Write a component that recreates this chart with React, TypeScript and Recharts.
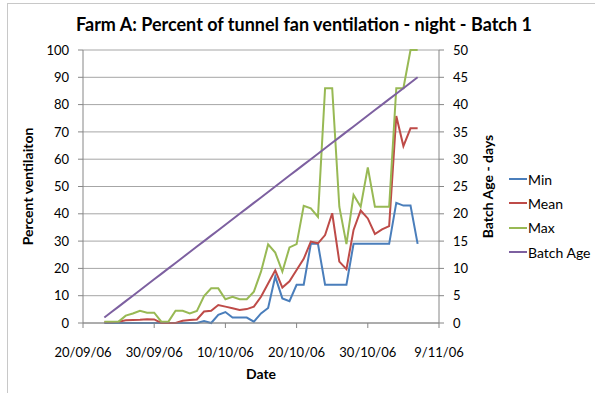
import React from 'react';
import { LineChart, Line, XAxis, YAxis, CartesianGrid, Legend, Label } from 'recharts';

const FONT = 'Lato, "Open Sans", sans-serif';

const dates = [
  '23/09/06', '24/09/06', '25/09/06', '26/09/06', '27/09/06', '28/09/06', '29/09/06', '30/09/06',
  '01/10/06', '02/10/06', '03/10/06', '04/10/06', '05/10/06', '06/10/06', '07/10/06', '08/10/06',
  '09/10/06', '10/10/06', '11/10/06', '12/10/06', '13/10/06', '14/10/06', '15/10/06', '16/10/06',
  '17/10/06', '18/10/06', '19/10/06', '20/10/06', '21/10/06', '22/10/06', '23/10/06', '24/10/06',
  '25/10/06', '26/10/06', '27/10/06', '28/10/06', '29/10/06', '30/10/06', '31/10/06', '01/11/06',
  '02/11/06', '03/11/06', '04/11/06', '05/11/06', '06/11/06',
];

const minVent = [
  0, 0, 0, 0, 0, 0, 0, 0, 0, 0, 0, 0, 0, 0, 0.7, 0, 3, 4, 2, 2, 2, 0.5, 3.5, 5.5, 17,
  9, 8, 14, 14, 29, 29, 14, 14, 14, 14, 29, 29, 29, 29, 29, 29, 44, 43, 43, 29,
];

const meanVent = [
  0.3, 0.3, 0.5, 1, 1.1, 1.2, 1.4, 1.3, 0, 0, 0, 0.8, 1.1, 1.3, 4.2, 4.5, 6.6, 6, 5.4, 4.8,
  5.1, 6, 9.6, 14.5, 19.3, 13, 15.3, 19.4, 23.5, 29.8, 29.2, 32.2, 40.2, 22.5, 19.7, 34.1,
  41.2, 38.3, 32.6, 34.3, 35.5, 75.8, 64.8, 71.3, 71.3,
];

const maxVent = [
  0.5, 0.5, 0.5, 2.7, 3.5, 4.5, 3.8, 3.8, 0.5, 0.5, 4.5, 4.5, 3.5, 4.4, 9.9, 12.7, 12.7, 8.7,
  9.6, 8.7, 8.7, 11.5, 18.8, 28.8, 25.8, 18.8, 27.7, 28.9, 42.9, 42, 38.9, 86, 86, 42.6, 28.9,
  46.9, 42.6, 57, 42.6, 42.6, 42.6, 86, 86, 100, 100,
];

const batchAge = [
  1, 2, 3, 4, 5, 6, 7, 8, 9, 10, 11, 12, 13, 14, 15, 16, 17, 18, 19, 20, 21, 22, 23, 24, 25,
  26, 27, 28, 29, 30, 31, 32, 33, 34, 35, 36, 37, 38, 39, 40, 41, 42, 43, 44, 45,
];

const xTickDates = ['20/09/06', '30/09/06', '10/10/06', '20/10/06', '30/10/06', '09/11/06'];
const xTickLabels = ['20/09/06', '30/09/06', '10/10/06', '20/10/06', '30/10/06', '9/11/06'];
const leftTicks = [0, 10, 20, 30, 40, 50, 60, 70, 80, 90, 100];
const rightTicks = [0, 5, 10, 15, 20, 25, 30, 35, 40, 45, 50];

const SERIES = [
  { key: 'min', name: 'Min', color: '#4a7ebb', axis: 'left' },
  { key: 'mean', name: 'Mean', color: '#be4b48', axis: 'left' },
  { key: 'max', name: 'Max', color: '#98b954', axis: 'left' },
  { key: 'age', name: 'Batch Age', color: '#7d60a0', axis: 'right' },
];

const toTime = (s: string) => {
  const [d, m, y] = s.split('/').map(Number);
  return Date.UTC(2000 + y, m - 1, d);
};

const data = dates.map((d, i) => ({
  t: toTime(d),
  min: minVent[i],
  mean: meanVent[i],
  max: maxVent[i],
  age: batchAge[i],
}));

const xTicks = xTickDates.map(toTime);
const tickLabel = (v: number) => xTickLabels[xTicks.indexOf(v)] ?? '';

const GRID = '#a6a6a6';
const AXIS = '#868686';
const tickStyle = { fill: '#000', fontSize: 13, fontFamily: FONT };

function VerticalTitle({ viewBox, text, cx }: any) {
  const x = viewBox.x + cx;
  const y = viewBox.y + viewBox.height / 2;
  return (
    <text x={x} y={y} transform={`rotate(-90 ${x} ${y})`} textAnchor="middle" dominantBaseline="central"
      style={{ fontFamily: FONT, fontSize: 14, fontWeight: 700, fill: '#000' }}>
      {text}
    </text>
  );
}

function LegendBox() {
  return (
    <div style={{ fontFamily: FONT, fontSize: 14, color: '#000' }}>
      {SERIES.map(s => (
        <div key={s.key} style={{ display: 'flex', alignItems: 'center', height: 24.3 }}>
          <span style={{ width: 18, height: 2, background: s.color, marginRight: 1 }} />
          <span>{s.name}</span>
        </div>
      ))}
    </div>
  );
}

export default function App() {
  return (
    <div style={{ position: 'absolute', left: 0, top: 0, width: 595, height: 393, background: '#fff', overflow: 'hidden' }}>
      <div style={{
        position: 'absolute', left: 7, top: 3, width: 640, height: 440,
        border: '1px solid #c8c8c8',
      }} />
      <div style={{
        position: 'absolute', left: 0, top: 13, width: 608, textAlign: 'center',
        fontFamily: FONT, fontSize: 18, fontWeight: 700, color: '#000',
      }}>
        Farm A: Percent of tunnel fan ventilation - night - Batch 1
      </div>
      <LineChart width={595} height={393} data={data}
        margin={{ top: 50, right: 96, left: 0, bottom: 10 }}
        style={{ position: 'absolute', left: 0, top: 0 }}>
        <CartesianGrid yAxisId="left" vertical={false} stroke={GRID} strokeWidth={1} />
        <XAxis
          dataKey="t"
          type="number"
          scale="time"
          domain={[xTicks[0], xTicks[xTicks.length - 1]]}
          ticks={xTicks}
          tickFormatter={tickLabel}
          tick={tickStyle}
          tickSize={5}
          tickMargin={20}
          stroke={AXIS}
          height={60}
          interval={0}
        >
          <Label content={({ viewBox }: any) => (
            <text x={viewBox.x + viewBox.width / 2} y={viewBox.y + 56} textAnchor="middle"
              style={{ fontFamily: FONT, fontSize: 14, fontWeight: 700, fill: '#000' }}>
              Date
            </text>
          )} />
        </XAxis>
        <YAxis
          yAxisId="left"
          orientation="left"
          domain={[0, 100]}
          ticks={leftTicks}
          interval={0}
          tick={tickStyle}
          tickSize={5}
          tickMargin={9}
          stroke={AXIS}
          width={83}
        >
          <Label content={(p: any) => <VerticalTitle {...p} text="Percent ventilaiton" cx={27} />} />
        </YAxis>
        <YAxis
          yAxisId="right"
          orientation="right"
          domain={[0, 50]}
          ticks={rightTicks}
          interval={0}
          tick={{ ...tickStyle, textAnchor: 'start' }}
          tickSize={5}
          tickMargin={9}
          stroke={AXIS}
          width={60}
        >
          <Label content={(p: any) => <VerticalTitle {...p} text="Batch Age - days" cx={48} />} />
        </YAxis>
        <Legend
          layout="vertical"
          align="center"
          verticalAlign="middle"
          content={() => <LegendBox />}
          wrapperStyle={{ left: 509, top: 167, width: 90 }}
        />
        {SERIES.map(s => (
          <Line
            key={s.key}
            yAxisId={s.axis}
            type="linear"
            dataKey={s.key}
            name={s.name}
            stroke={s.color}
            strokeWidth={2}
            dot={false}
            isAnimationActive={false}
          />
        ))}
      </LineChart>
    </div>
  );
}
